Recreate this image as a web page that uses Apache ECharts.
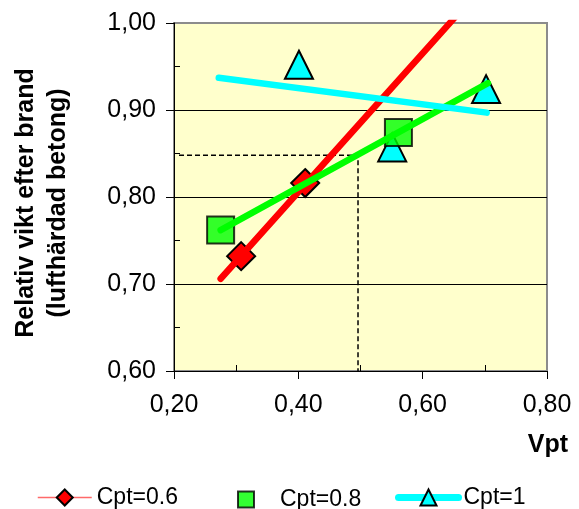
<!DOCTYPE html>
<html>
<head>
<meta charset="utf-8">
<script src="https://cdn.jsdelivr.net/npm/echarts@6/dist/echarts.min.js"></script>
<style>
  html, body { margin: 0; padding: 0; background: #ffffff; }
  #chart { width: 579px; height: 509px; }
</style>
</head>
<body>
<div id="chart"></div>
<script>
// Measured points: relative weight after fire vs Vpt
const cpt06X = [0.308, 0.411];
const cpt06Y = [0.732, 0.816];
const cpt08X = [0.275, 0.561];
const cpt08Y = [0.762, 0.874];
const cpt1X = [0.401, 0.551, 0.702];
const cpt1Y = [0.952, 0.857, 0.924];

// Trend line end points for each series
const trend06X = [0.275, 0.66];
const trend06Y = [0.706, 1.013];
const trend08X = [0.275, 0.705];
const trend08Y = [0.762, 0.931];
const trend1X = [0.272, 0.703];
const trend1Y = [0.937, 0.897];

// Reading guide: from the y axis across to the curve, then down to the x axis
const guideX = [0.208, 0.496, 0.496];
const guideY = [0.848, 0.848, 0.600];

// Minor ticks (drawn inside the plot area)
const xMinorTicks = [0.3, 0.5, 0.7];
const yMinorTicks = [0.65, 0.75, 0.85, 0.95];

const zip = (xs, ys) => xs.map((x, i) => [x, ys[i]]);
const comma = v => v.toFixed(2).replace('.', ',');
const FONT = 'Liberation Sans, Arial, sans-serif';

const GRID = { left: 174, right: 32, top: 23, bottom: 138 };
const W = 579, H = 509;
const plotW = W - GRID.left - GRID.right;
const plotH = H - GRID.top - GRID.bottom;

const chart = echarts.init(document.getElementById('chart'), null, { renderer: 'canvas' });

const markerBorder = { borderColor: '#000000', borderWidth: 2 };
const legendText = { fontFamily: FONT, fontSize: 23, color: '#000000' };

chart.setOption({
  backgroundColor: '#ffffff',
  animation: false,
  textStyle: { fontFamily: FONT },
  grid: Object.assign({
    show: true,
    backgroundColor: '#FFFFCC',
    borderColor: '#8c8c8c',
    borderWidth: 2
  }, GRID),
  legend: [
    {
      left: 37, top: 486, padding: 0,
      itemWidth: 54, itemHeight: 20,
      textStyle: legendText,
      data: [{ name: 'Cpt=0.6', lineStyle: { color: '#ff6a6a', width: 1.5, opacity: 1 } }]
    },
    {
      left: 237, top: 488, padding: 0,
      itemWidth: 16, itemHeight: 16,
      textStyle: Object.assign({ padding: [0, 0, 0, 21] }, legendText),
      data: [{ name: 'Cpt=0.8', icon: 'rect' }]
    },
    {
      left: 395, top: 486, padding: 0,
      itemWidth: 60, itemHeight: 20,
      textStyle: legendText,
      data: [{ name: 'Cpt=1', lineStyle: { color: '#00ffff', width: 7, opacity: 1, cap: 'round' } }]
    }
  ],
  xAxis: [
    {
      type: 'value',
      min: 0.2, max: 0.8, interval: 0.2,
      name: 'Vpt',
      nameLocation: 'end',
      nameGap: 21,
      nameTextStyle: {
        fontFamily: FONT, fontSize: 25, fontWeight: 'bold', color: '#000000',
        align: 'right', verticalAlign: 'top', padding: [62, 0, 0, 0]
      },
      axisLine: { show: true, onZero: false, lineStyle: { color: '#000000', width: 1 } },
      axisTick: { show: true, inside: false, length: 8, lineStyle: { color: '#000000', width: 1 } },
      axisLabel: { margin: 22, fontFamily: FONT, fontSize: 25, color: '#000000', formatter: comma },
      splitLine: { show: false }
    },
    {
      // placed at the top, then shifted down onto the bottom edge so its ticks point inward
      type: 'value',
      min: 0.2, max: 0.8,
      position: 'top',
      offset: -plotH,
      axisLine: { show: false },
      axisTick: { show: true, length: 6, customValues: xMinorTicks,
                  lineStyle: { color: '#000000', width: 1 } },
      axisLabel: { show: false },
      splitLine: { show: false }
    }
  ],
  yAxis: [
    {
      type: 'value',
      min: 0.6, max: 1.0, interval: 0.1,
      name: 'Relativ vikt efter brand\n(lufthärdad betong)',
      nameLocation: 'middle',
      nameRotate: 90,
      nameGap: 100,
      nameTextStyle: {
        fontFamily: FONT, fontSize: 25, fontWeight: 'bold', color: '#000000',
        lineHeight: 32, padding: [0, 12, 0, 0]
      },
      axisLine: { show: true, onZero: false, lineStyle: { color: '#000000', width: 1 } },
      axisTick: { show: true, inside: false, length: 8, lineStyle: { color: '#000000', width: 1 } },
      axisLabel: { margin: 18, fontFamily: FONT, fontSize: 25, color: '#000000', formatter: comma },
      splitLine: { show: true, showMinLine: false, showMaxLine: false,
                   lineStyle: { color: '#000000', width: 1 } }
    },
    {
      // placed on the right, then shifted onto the left edge so its ticks point inward
      type: 'value',
      min: 0.6, max: 1.0,
      position: 'right',
      offset: -plotW,
      axisLine: { show: false },
      axisTick: { show: true, length: 6, customValues: yMinorTicks,
                  lineStyle: { color: '#000000', width: 1 } },
      axisLabel: { show: false },
      splitLine: { show: false }
    }
  ],
  series: [
    {
      name: 'guide',
      type: 'line',
      data: zip(guideX, guideY),
      symbol: 'none',
      silent: true,
      z: 1,
      lineStyle: { color: '#000000', width: 1.5, type: [5, 3] }
    },
    {
      name: 'Cpt=0.6',
      type: 'line',
      data: zip(cpt06X, cpt06Y),
      symbol: 'diamond',
      symbolSize: 28,
      z: 2,
      lineStyle: { color: '#ff0000', width: 1.5 },
      itemStyle: Object.assign({ color: '#ff0000' }, markerBorder)
    },
    {
      name: 'Cpt=1',
      type: 'line',
      data: zip(cpt1X, cpt1Y),
      symbol: 'triangle',
      symbolSize: 28,
      z: 2,
      lineStyle: { width: 0, opacity: 0 },
      itemStyle: Object.assign({ color: '#00ffff' }, markerBorder)
    },
    {
      name: 'Cpt=0.8',
      type: 'scatter',
      data: zip(cpt08X, cpt08Y),
      symbol: 'rect',
      symbolSize: 27,
      z: 2,
      itemStyle: Object.assign({ color: '#00ff00' }, markerBorder)
    },
    {
      name: 'trend Cpt=0.6',
      type: 'line',
      data: zip(trend06X, trend06Y),
      symbol: 'none',
      silent: true,
      z: 3,
      lineStyle: { color: '#ff0000', width: 6.5, cap: 'round' }
    },
    {
      name: 'trend Cpt=0.8',
      type: 'line',
      data: zip(trend08X, trend08Y),
      symbol: 'none',
      silent: true,
      z: 4,
      lineStyle: { color: '#00ff00', width: 6.5, cap: 'round' }
    },
    {
      name: 'trend Cpt=1',
      type: 'line',
      data: zip(trend1X, trend1Y),
      symbol: 'none',
      silent: true,
      z: 5,
      lineStyle: { color: '#00ffff', width: 6.5, cap: 'round' }
    }
  ]
});
</script>
</body>
</html>
